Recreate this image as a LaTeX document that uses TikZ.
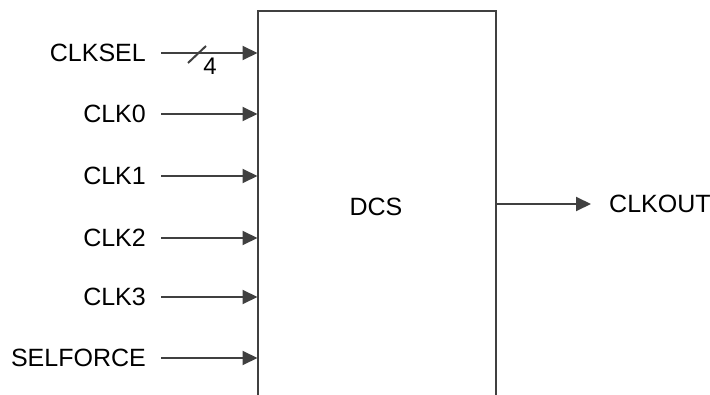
\documentclass[tikz,border=0pt]{standalone}
\usepackage{fontspec}
\setmainfont{Liberation Sans}
\usetikzlibrary{arrows.meta}
\definecolor{ln}{HTML}{404040}
\begin{document}
\begin{tikzpicture}[x=1pt,y=1pt,
  wire/.style={draw=ln,line width=2pt,-{Triangle[length=15pt,width=14pt]}},
  lbl/.style={font=\fontsize{25}{25}\selectfont,inner sep=0pt,anchor=east},
  blk/.style={draw=ln,line width=2pt}]
\useasboundingbox (0,0) rectangle (710,394);
\clip (0,0) rectangle (710,394);
\draw[blk] (257.5,-20) rectangle (496,383);
\node[font=\fontsize{25}{25}\selectfont] (dcs) at (376,187) {DCS};
% inputs
\foreach \n/\t/\y in {sel/CLKSEL/341,c0/CLK0/280,c1/CLK1/218,c2/CLK2/156,c3/CLK3/97,sf/SELFORCE/36}{
  \node[lbl] (l\n) at (146,\y) {\t};
  \coordinate (s\n) at (161,\y);
  \coordinate (e\n) at (257.5,\y);
  \draw[wire] (s\n) -- (e\n);
}
\coordinate (sl1) at (188,331);
\coordinate (sl2) at (206,348);
\draw[draw=ln,line width=2pt] (sl1) -- (sl2);
\node[font=\fontsize{24}{24}\selectfont,inner sep=0pt] (four) at (210,328) {4};
% output
\coordinate (so) at (496,190);
\coordinate (eo) at (591,190);
\draw[wire] (so) -- (eo);
\node[lbl,anchor=west] (lo) at (609,190) {CLKOUT};
\end{tikzpicture}
\end{document}
